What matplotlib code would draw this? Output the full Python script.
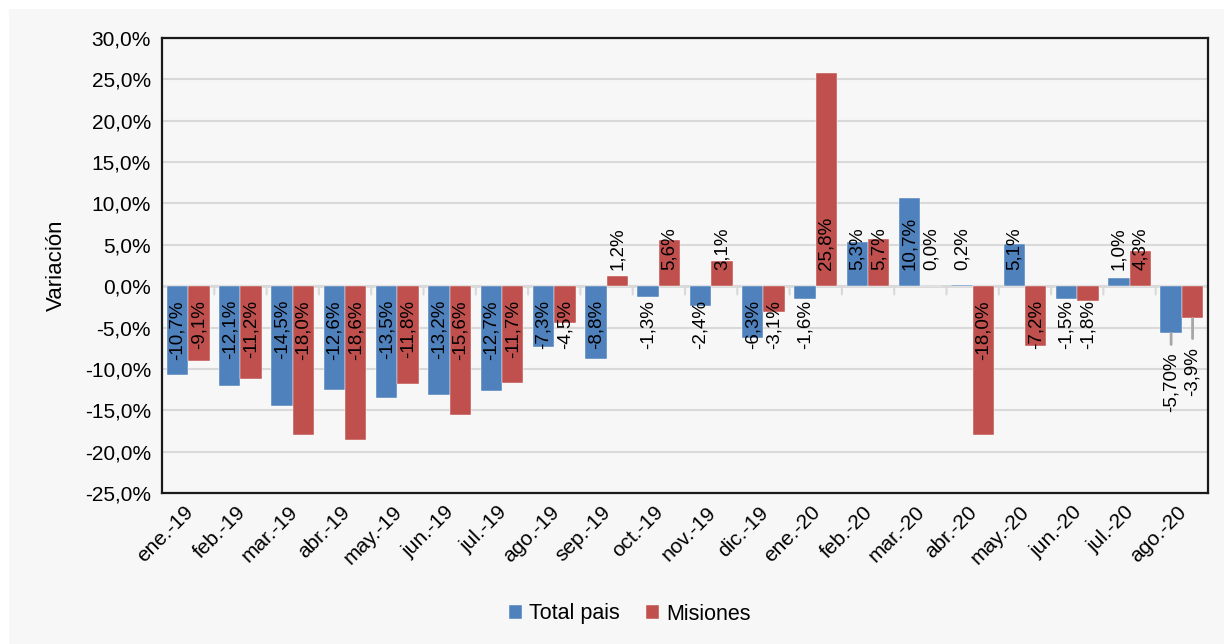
import numpy as np
import matplotlib
matplotlib.use("Agg")
import matplotlib.pyplot as plt
from matplotlib.patches import Rectangle
from matplotlib.ticker import FuncFormatter, FixedLocator
from matplotlib.transforms import ScaledTranslation

plt.rcParams['font.family'] = ['Liberation Sans', 'DejaVu Sans']

# datos
meses = ["ene.-19", "feb.-19", "mar.-19", "abr.-19", "may.-19", "jun.-19",
         "jul.-19", "ago.-19", "sep.-19", "oct.-19", "nov.-19", "dic.-19",
         "ene.-20", "feb.-20", "mar.-20", "abr.-20", "may.-20", "jun.-20",
         "jul.-20", "ago.-20"]
total_pais = [-10.7, -12.1, -14.5, -12.6, -13.5, -13.2, -12.7, -7.3, -8.8, -1.3,
              -2.4, -6.3, -1.6, 5.3, 10.7, 0.2, 5.1, -1.5, 1.0, -5.7]
misiones = [-9.1, -11.2, -18.0, -18.6, -11.8, -15.6, -11.7, -4.5, 1.2, 5.6,
            3.1, -3.1, 25.8, 5.7, 0.0, -18.0, -7.2, -1.8, 4.3, -3.9]
etiq_total = ["-10,7%", "-12,1%", "-14,5%", "-12,6%", "-13,5%", "-13,2%", "-12,7%",
              "-7,3%", "-8,8%", "-1,3%", "-2,4%", "-6,3%", "-1,6%", "5,3%", "10,7%",
              "0,2%", "5,1%", "-1,5%", "1,0%", "-5,70%"]
etiq_mis = ["-9,1%", "-11,2%", "-18,0%", "-18,6%", "-11,8%", "-15,6%", "-11,7%",
            "-4,5%", "1,2%", "5,6%", "3,1%", "-3,1%", "25,8%", "5,7%", "0,0%",
            "-18,0%", "-7,2%", "-1,8%", "4,3%", "-3,9%"]
y_ticks = [-25, -20, -15, -10, -5, 0, 5, 10, 15, 20, 25, 30]

AZUL = "#4f81bd"
ROJO = "#c0504d"
GRIS = "#d9d9d9"

fig = plt.figure(figsize=(12.24, 6.44), dpi=100)
fig.patch.set_facecolor("white")
fig.patches.append(Rectangle((9 / 1224, 0), 1, 1 - 9 / 644, transform=fig.transFigure,
                             facecolor="#f7f7f7", edgecolor="none", zorder=-10))

ax = fig.add_axes([162 / 1224, 1 - 493 / 644, (1208 - 162) / 1224, (493 - 38) / 644])
ax.set_facecolor("#f7f7f7")

x = np.arange(len(meses))
w = 0.41
b1 = ax.bar(x - w / 2, total_pais, w, color=AZUL, label="Total pais", zorder=3,
            edgecolor="white", linewidth=0.3)
b2 = ax.bar(x + w / 2, misiones, w, color=ROJO, label="Misiones", zorder=3,
            edgecolor="white", linewidth=0.3)

ax.set_ylim(-25, 30)
ax.set_xlim(-0.5, len(meses) - 0.5)
ax.yaxis.set_major_locator(FixedLocator(y_ticks))
ax.yaxis.set_major_formatter(FuncFormatter(lambda v, p: f"{v:.1f}%".replace(".", ",")))
ax.grid(axis="y", color=GRIS, linewidth=1.5, zorder=0)
ax.axhline(0, color=GRIS, linewidth=2, zorder=2)
for s in ax.spines.values():
    s.set_linewidth(1.6)
    s.set_color("#1a1a1a")
ax.tick_params(axis="y", length=0, labelsize=15, pad=8)
ax.tick_params(axis="x", length=0, labelsize=15, pad=7)
ax.set_xticks(x)
ax.set_xticklabels(meses, rotation=45, ha="right", rotation_mode="anchor")
desplaza = ScaledTranslation(-5 / 100, 0, fig.dpi_scale_trans)
for lab in ax.get_xticklabels():
    lab.set_transform(lab.get_transform() + desplaza)

# marcas entre categorias sobre el eje cero
for b in np.arange(-0.5, len(meses), 1.0):
    ax.annotate("", xy=(b, 0), xytext=(0, -6), textcoords="offset points",
                arrowprops=dict(arrowstyle="-", color=GRIS, lw=1.5,
                                shrinkA=0, shrinkB=0), zorder=2)

ax.set_ylabel("Variación", fontsize=16)
ax.yaxis.set_label_coords(-0.091, 0.5)

# etiquetas
n = len(meses)
for i in range(n - 1):
    for xi, v, t in [(x[i] - w / 2, total_pais[i], etiq_total[i]),
                     (x[i] + w / 2, misiones[i], etiq_mis[i])]:
        if v >= 0:
            ax.annotate(t, (xi, 0), xytext=(0, 11.5), textcoords="offset points",
                        rotation=90, ha="center", va="bottom", fontsize=13.5, zorder=5)
        else:
            ax.annotate(t, (xi, 0), xytext=(0, -10), textcoords="offset points",
                        rotation=90, ha="center", va="top", fontsize=13.5, zorder=5)

# ultima categoria con lineas guia
for xi, v, t, off in [(x[-1] - w / 2, total_pais[-1], etiq_total[-1], -14),
                      (x[-1] + w / 2, misiones[-1], etiq_mis[-1], -20.5)]:
    ax.annotate(t, (xi, v), xytext=(0, off), textcoords="offset points",
                rotation=90, ha="center", va="top", fontsize=13.5, zorder=5,
                arrowprops=dict(arrowstyle="-", color="#a6a6a6", lw=2,
                                shrinkA=4, shrinkB=0))

fig.legend(handles=[b1, b2], loc="center", bbox_to_anchor=(630 / 1224, 1 - 614 / 644),
           ncol=2, frameon=False, fontsize=15.5, handlelength=0.6, handleheight=0.6,
           handletextpad=0.35, columnspacing=1.2)

fig.savefig("out.png", dpi=100, facecolor=fig.get_facecolor())
